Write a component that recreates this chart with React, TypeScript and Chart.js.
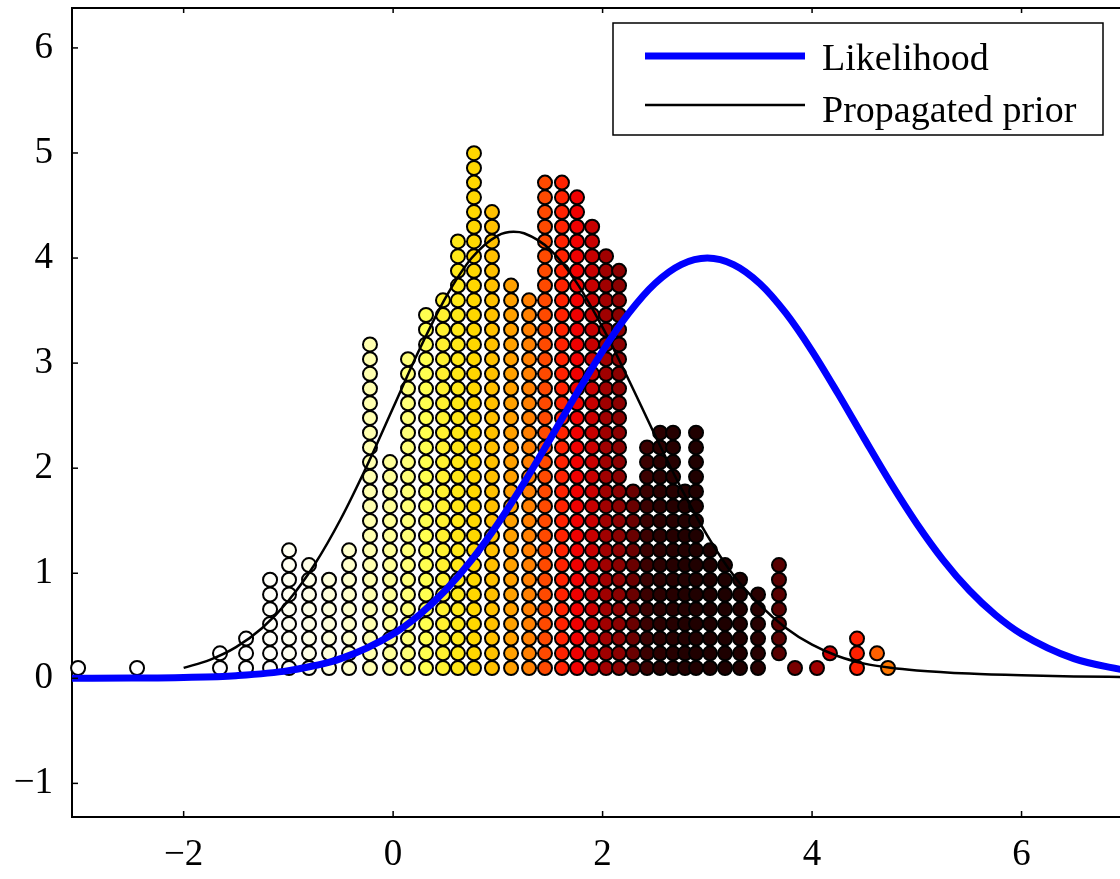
import React, { useEffect, useRef } from "react";
import { Chart, registerables } from "chart.js";

Chart.register(...registerables);

// ---- axis ranges and ticks ----
const X_MIN = -3.066;
const X_MAX = 6.94;
const Y_MIN = -1.32;
const Y_MAX = 6.38;
const xTickValues = [-2, 0, 2, 4, 6];
const yTickValues = [-1, 0, 1, 2, 3, 4, 5, 6];

// ---- likelihood curve (blue) ----
const likelihoodX = [-3.066, -2.5, -2, -1.5, -1, -0.5, 0, 0.25, 0.5, 0.75, 1, 1.25, 1.5, 1.75, 2, 2.25, 2.5, 2.75, 3, 3.25, 3.5, 3.75, 4, 4.25, 4.5, 4.75, 5, 5.25, 5.5, 5.75, 6, 6.5, 7];
const likelihoodY = [0.0004, 0.002, 0.008, 0.025, 0.073, 0.187, 0.422, 0.604, 0.838, 1.128, 1.472, 1.86, 2.279, 2.706, 3.115, 3.475, 3.758, 3.938, 4.0, 3.938, 3.758, 3.475, 3.115, 2.706, 2.279, 1.86, 1.472, 1.128, 0.838, 0.604, 0.422, 0.187, 0.073];

// ---- propagated prior curve (black) ----
const priorX = [-2, -1.75, -1.5, -1.25, -1, -0.75, -0.5, -0.25, 0, 0.25, 0.5, 0.75, 1, 1.15, 1.25, 1.5, 1.75, 2, 2.25, 2.5, 2.75, 3, 3.25, 3.5, 3.75, 4, 4.25, 4.5, 4.75, 5, 5.5, 6, 6.5, 7];
const priorY = [0.099, 0.176, 0.297, 0.479, 0.738, 1.083, 1.516, 2.023, 2.575, 3.127, 3.621, 4.0, 4.214, 4.25, 4.236, 4.08, 3.769, 3.34, 2.84, 2.315, 1.81, 1.358, 0.98, 0.7, 0.48, 0.32, 0.21, 0.14, 0.1, 0.075, 0.045, 0.028, 0.018, 0.012];

// ---- particles: stacked columns (x position, lowest row, highest row, fill) ----
const ROW_BASE = 0.098;
const ROW_STEP = 0.14;
const dotColX = [-3.008, -2.445, -1.653, -1.404, -1.175, -0.994, -0.803, -0.612, -0.421, -0.221, -0.03, 0.142, 0.314, 0.476, 0.619, 0.772, 0.944, 1.126, 1.298, 1.45, 1.612, 1.756, 1.9, 2.033, 2.157, 2.291, 2.424, 2.549, 2.673, 2.787, 2.892, 3.026, 3.169, 3.312, 3.484, 3.684, 3.837, 4.047, 4.171, 4.429, 4.62, 4.725];
const dotColLo = [0, 0, 0, 0, 0, 0, 0, 0, 0, 0, 0, 0, 0, 0, 0, 0, 0, 0, 0, 0, 0, 0, 0, 0, 0, 0, 0, 0, 0, 0, 0, 0, 0, 0, 0, 1, 0, 0, 1, 0, 1, 0];
const dotColHi = [0, 0, 1, 2, 6, 8, 7, 6, 8, 22, 14, 21, 24, 25, 29, 35, 31, 26, 25, 33, 33, 32, 30, 28, 27, 12, 15, 16, 16, 12, 16, 8, 7, 6, 5, 7, 0, 0, 1, 2, 1, 0];
const dotColFill = ["#ffffff", "#ffffff", "#ffffff", "#ffffff", "#fffffa", "#fffff2", "#ffffe8", "#ffffdc", "#ffffcc", "#ffffb0", "#ffff98", "#ffff78", "#ffff50", "#fff030", "#ffe818", "#ffd700", "#ffc000", "#ffa000", "#ff8000", "#ff4a00", "#ff2200", "#f00000", "#c80000", "#a00000", "#8c0000", "#6a0000", "#3c0000", "#2a0000", "#260000", "#220000", "#200000", "#1e0000", "#1e0000", "#200000", "#280000", "#580000", "#780000", "#a00000", "#d00000", "#ff2000", "#ff6000", "#ff7800"];

const FONT_FAMILY = "'Liberation Serif', 'Times New Roman', serif";
const FONT_SIZE = 37;

const framePlugin = {
  id: "matlabFrame",
  afterDraw(chart: any) {
    const { ctx, chartArea, scales } = chart;
    const xs = scales.x;
    const ys = scales.y;
    ctx.save();
    ctx.strokeStyle = "#000";
    ctx.lineWidth = 2;
    ctx.beginPath();
    ctx.moveTo(chartArea.left - 1, chartArea.top);
    ctx.lineTo(chartArea.right, chartArea.top);
    ctx.stroke();
    ctx.lineWidth = 1.5;
    for (const v of xTickValues) {
      const px = xs.getPixelForValue(v);
      ctx.beginPath();
      ctx.moveTo(px, chartArea.bottom);
      ctx.lineTo(px, chartArea.bottom - 6);
      ctx.moveTo(px, chartArea.top);
      ctx.lineTo(px, chartArea.top + 5);
      ctx.stroke();
    }
    for (const v of yTickValues) {
      const py = ys.getPixelForValue(v);
      ctx.beginPath();
      ctx.moveTo(chartArea.left, py);
      ctx.lineTo(chartArea.left + 6, py);
      ctx.stroke();
    }
    // legend
    const bx = 613, by = 23, bw = 490, bh = 112;
    ctx.fillStyle = "#fff";
    ctx.fillRect(bx, by, bw, bh);
    ctx.lineWidth = 1.5;
    ctx.strokeStyle = "#000";
    ctx.strokeRect(bx, by, bw, bh);
    const items = [chart.data.datasets[0], chart.data.datasets[1]];
    const rowsY = [56, 105];
    const baseY = [70, 122];
    items.forEach((ds: any, i: number) => {
      ctx.strokeStyle = ds.borderColor;
      ctx.lineWidth = ds.borderWidth;
      ctx.beginPath();
      ctx.moveTo(645, rowsY[i]);
      ctx.lineTo(805, rowsY[i]);
      ctx.stroke();
      ctx.fillStyle = "#000";
      ctx.font = `${FONT_SIZE + 1}px ${FONT_FAMILY}`;
      ctx.textAlign = "left";
      ctx.textBaseline = "alphabetic";
      ctx.fillText(ds.label, 822, baseY[i]);
    });
    ctx.restore();
  },
};

const zeroPad = (s: any) => {
  s.paddingTop = 0;
  s.paddingBottom = 0;
  s.paddingLeft = 0;
  s.paddingRight = 0;
};

export default function App() {
  const canvasRef = useRef<HTMLCanvasElement | null>(null);

  useEffect(() => {
    const canvas = canvasRef.current;
    if (!canvas) return;

    const dots: { x: number; y: number }[] = [];
    const fills: string[] = [];
    dotColX.forEach((x, i) => {
      for (let k = dotColLo[i]; k <= dotColHi[i]; k++) {
        dots.push({ x, y: ROW_BASE + ROW_STEP * k });
        fills.push(dotColFill[i]);
      }
    });

    const chart = new Chart(canvas, {
      type: "scatter",
      data: {
        datasets: [
          {
            type: "line",
            label: "Likelihood",
            data: likelihoodX.map((x, i) => ({ x, y: likelihoodY[i] })),
            borderColor: "#0000ff",
            borderWidth: 7,
            pointRadius: 0,
            fill: false,
            cubicInterpolationMode: "monotone",
          },
          {
            type: "line",
            label: "Propagated prior",
            data: priorX.map((x, i) => ({ x, y: priorY[i] })),
            borderColor: "#000000",
            borderWidth: 2.5,
            pointRadius: 0,
            fill: false,
            cubicInterpolationMode: "monotone",
          },
          {
            type: "scatter",
            label: "Particles",
            data: dots,
            pointRadius: 7,
            pointBorderWidth: 2,
            pointBorderColor: "#000",
            pointBackgroundColor: fills,
            clip: false,
          },
        ] as any,
      },
      options: {
        responsive: false,
        animation: false,
        devicePixelRatio: 1,
        layout: { autoPadding: false, padding: { top: 8, right: 0, left: 0, bottom: 0 } },
        plugins: { legend: { display: false }, tooltip: { enabled: false } },
        scales: {
          x: {
            type: "linear",
            min: X_MIN,
            max: X_MAX,
            afterBuildTicks: (s: any) => {
              s.ticks = xTickValues.map((v) => ({ value: v }));
            },
            afterFit: (s: any) => {
              s.height = 62;
              zeroPad(s);
            },
            grid: { display: false, drawTicks: false },
            border: { display: true, color: "#000", width: 2 },
            ticks: {
              padding: 16,
              color: "#000",
              maxRotation: 0,
              autoSkip: false,
              font: { family: FONT_FAMILY, size: FONT_SIZE },
              callback: (v: any) => String(v).replace("-", "\u2212"),
            },
          },
          y: {
            type: "linear",
            min: Y_MIN,
            max: Y_MAX,
            afterBuildTicks: (s: any) => {
              s.ticks = yTickValues.map((v) => ({ value: v }));
            },
            afterFit: (s: any) => {
              s.width = 72;
              zeroPad(s);
            },
            grid: { display: false, drawTicks: false },
            border: { display: true, color: "#000", width: 2 },
            ticks: {
              padding: 19,
              color: "#000",
              autoSkip: false,
              font: { family: FONT_FAMILY, size: FONT_SIZE },
              callback: (v: any) => String(v).replace("-", "\u2212"),
            },
          },
        },
      } as any,
      plugins: [framePlugin],
    });

    return () => chart.destroy();
  }, []);

  return (
    <div style={{ position: "absolute", left: 0, top: 0, width: 1120, height: 879, background: "#fff" }}>
      <canvas ref={canvasRef} width={1120} height={879} style={{ display: "block" }} />
    </div>
  );
}
